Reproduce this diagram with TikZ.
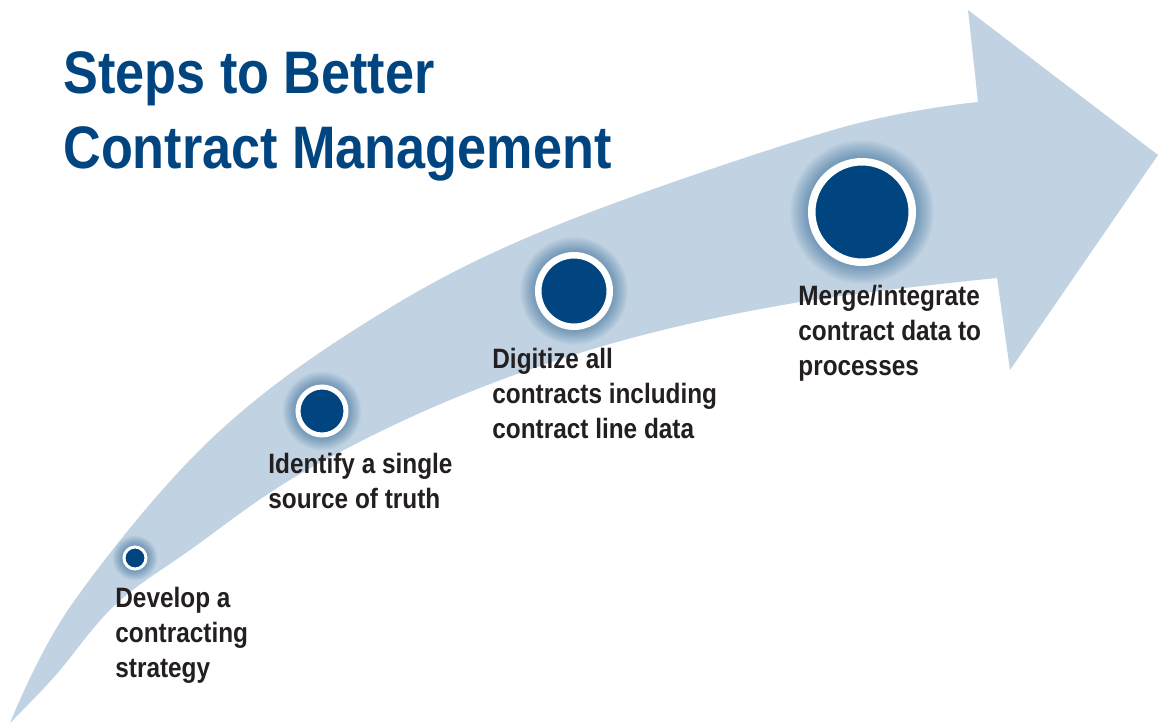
\documentclass[tikz,border=0pt]{standalone}
\usepackage{fontspec}
\setmainfont{Liberation Sans}[FakeStretch=0.87]
\definecolor{bandblue}{HTML}{C1D3E2}
\definecolor{navy}{HTML}{00457F}
\definecolor{ink}{HTML}{231F20}
\begin{document}
\begin{tikzpicture}[x=0.5pt,y=-0.5pt,
  titletext/.style={anchor=base west, inner sep=0pt, text=navy, align=left,
    font=\fontsize{30}{37.5}\selectfont\bfseries},
  steptext/.style={anchor=base west, inner sep=0pt, text=ink, align=left,
    font=\fontsize{14}{17.5}\selectfont\bfseries},
  stepdot/.style={circle, fill=navy, draw=white, inner sep=0pt}]

\useasboundingbox (0,0) rectangle (1171,724);

% curved band ending in the arrow head
\fill[bandblue]
  plot[smooth, tension=0.6] coordinates {(10,723) (72,604) (210,440) (370,320)
    (550,228) (833,130) (978,102)}
  -- (968,10) -- (1158,155) -- (1010,370) -- (997,278)
  -- plot[smooth, tension=0.6] coordinates {(997,278) (800,302) (617,342)
    (450,400) (300,474) (190,550) (115,605) (55,676) (10,723)}
  -- cycle;

% milestone dots with a soft glow
\foreach \nm/\cx/\cy/\ro/\ri/\gw in {s1/135/558/12.5/9.5/10, s2/322/411/26.5/21.5/13,
    s3/574/291/39/32.5/15, s4/862/212/54/46.5/18} {
  \foreach \k in {1,...,14}
    \fill[navy, opacity=0.032] (\cx,\cy) circle[radius={(\ro+\k*\gw/14)*0.5pt}];
  \pgfmathsetmacro{\dsize}{(\ro+\ri)*0.5}
  \pgfmathsetmacro{\rw}{(\ro-\ri)*0.5}
  \node[stepdot, minimum size=\dsize pt, line width=\rw pt] (\nm) at (\cx,\cy) {};
}

% title (anchored on the baseline of its last line)
\node[titletext] (title) at (63,168) {Steps to Better\\Contract Management};

% step labels (anchored on the baseline of their last line)
\node[steptext] (l1) at (115,677) {Develop a\\contracting\\strategy};
\node[steptext] (l2) at (268,508) {Identify a single\\source of truth};
\node[steptext] (l3) at (492,438) {Digitize all\\contracts including\\contract line data};
\node[steptext] (l4) at (798,375) {Merge/integrate\\contract data to\\processes};
\end{tikzpicture}
\end{document}
